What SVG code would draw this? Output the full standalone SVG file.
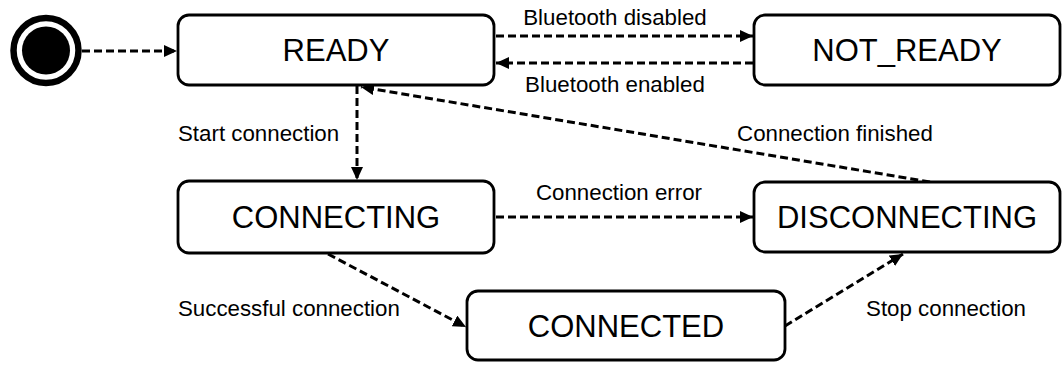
<svg xmlns="http://www.w3.org/2000/svg" width="1064" height="365" viewBox="0 0 1064 365">
<style>
.node rect{fill:#fff;stroke:#000;stroke-width:2.8}
.node text{font-family:"Liberation Sans",Arial,sans-serif;font-size:31px;text-anchor:middle;fill:#000}
.edge{fill:none;stroke:#000;stroke-width:3;stroke-dasharray:8 4}
.lbl{font-family:"Liberation Sans",Arial,sans-serif;font-size:22.3px;fill:#000}
</style>
<defs>
<marker id="ah" viewBox="0 0 13 12" refX="13" refY="6" markerWidth="13" markerHeight="12" markerUnits="userSpaceOnUse" orient="auto">
<path d="M0,0 L13,6 L0,12 Z" fill="#000"/>
</marker>
</defs>
<rect width="1064" height="365" fill="#fff"/>
<g id="connectors">
<path class="edge" d="M82,51 L177,51" marker-end="url(#ah)"/>
<path class="edge" d="M496,36 L753,36" marker-end="url(#ah)"/>
<path class="edge" d="M753,63 L496,63" marker-end="url(#ah)"/>
<path class="edge" d="M357,86 L357,180" marker-end="url(#ah)"/>
<path class="edge" d="M930,182 L361,87" marker-end="url(#ah)"/>
<path class="edge" d="M496,217 L753,217" marker-end="url(#ah)"/>
<path class="edge" d="M328,254 L466,327" marker-end="url(#ah)"/>
<path class="edge" d="M785,326 L903,254" marker-end="url(#ah)"/>
<text class="lbl" x="615" y="25" text-anchor="middle">Bluetooth disabled</text>
<text class="lbl" x="615" y="92" text-anchor="middle">Bluetooth enabled</text>
<text class="lbl" x="178" y="141">Start connection</text>
<text class="lbl" x="835" y="141" text-anchor="middle">Connection finished</text>
<text class="lbl" x="619" y="200" text-anchor="middle">Connection error</text>
<text class="lbl" x="178" y="316">Successful connection</text>
<text class="lbl" x="946" y="316" text-anchor="middle">Stop connection</text>
</g>
<g id="initial">
<circle cx="46" cy="50.5" r="32.5" fill="#fff" stroke="#000" stroke-width="6.5"/>
<circle cx="46" cy="50.5" r="24" fill="#000"/>
</g>
<g id="ready" class="node"><rect x="178" y="15" width="316" height="70" rx="11"/><text x="336" y="61">READY</text></g>
<g id="not_ready" class="node"><rect x="754" y="15" width="306" height="70" rx="11"/><text x="907" y="61">NOT_READY</text></g>
<g id="connecting" class="node"><rect x="178" y="181" width="316" height="72" rx="11"/><text x="336" y="228">CONNECTING</text></g>
<g id="disconnecting" class="node"><rect x="754" y="182" width="306" height="70" rx="11"/><text x="907" y="228">DISCONNECTING</text></g>
<g id="connected" class="node"><rect x="467" y="291" width="318" height="69" rx="11"/><text x="626" y="337">CONNECTED</text></g>
</svg>
